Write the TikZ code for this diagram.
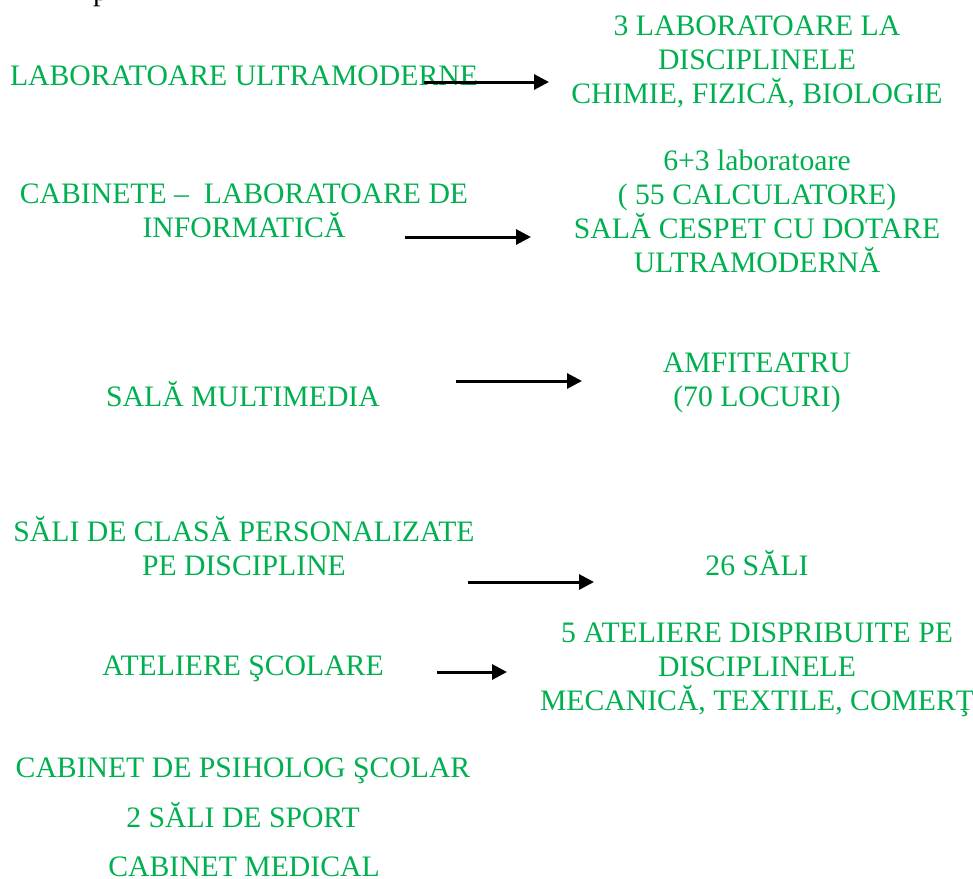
\documentclass[tikz,border=0pt]{standalone}
\usepackage{fontspec}
\setmainfont{Liberation Serif}
\usepackage{xcolor}
\usepackage{tikz}
\usetikzlibrary{arrows.meta, positioning}
\definecolor{offgreen}{RGB}{0,176,80}

\begin{document}
\begin{tikzpicture}[
    x=1pt, y=-1pt,
    every node/.style={text=offgreen, inner sep=0pt, align=center, anchor=base,
        font=\fontsize{29.7}{33.8}\selectfont},
    cut/.style={text=black},
    arr/.style={-{Triangle[length=15pt, width=15pt]}, line width=3pt},
]
\useasboundingbox (0,0) rectangle (973,878);

\node[cut, anchor=base west] (p) at (93,1) {p};

\node (lab) at (244,85) {LABORATOARE ULTRAMODERNE};
\node (labR) at (757,103) {3 LABORATOARE LA\\DISCIPLINELE\\CHIMIE, FIZICĂ, BIOLOGIE};

\node (info) at (244,237) {CABINETE –~ LABORATOARE DE\\INFORMATICĂ};
\node (infoR) at (757,272) {6+3 laboratoare\\( 55 CALCULATORE)\\SALĂ CESPET CU DOTARE\\ULTRAMODERNĂ};

\node (multi) at (243,406) {SALĂ MULTIMEDIA};
\node (multiR) at (757,406) {AMFITEATRU\\(70 LOCURI)};

\node (clase) at (244,575) {SĂLI DE CLASĂ PERSONALIZATE\\PE DISCIPLINE};
\node (claseR) at (757,575) {26 SĂLI};

\node (atel) at (243,675) {ATELIERE ŞCOLARE};
\node (atelR) at (757,710) {5 ATELIERE DISPRIBUITE PE\\DISCIPLINELE\\MECANICĂ, TEXTILE, COMERŢ};

\node (psih) at (243,777) {CABINET DE PSIHOLOG ŞCOLAR};
\node (sport) at (243,827) {2 SĂLI DE SPORT};
\node (med) at (244,876) {CABINET MEDICAL};

\coordinate (a1) at (424,82);
\coordinate (b1) at (549,82);
\coordinate (a2) at (405,237);
\coordinate (b2) at (531,237);
\coordinate (a3) at (456,381);
\coordinate (b3) at (582,381);
\coordinate (a4) at (468,582);
\coordinate (b4) at (594,582);
\coordinate (a5) at (437,672);
\coordinate (b5) at (507,672);

\draw[arr] (a1) -- (b1);
\draw[arr] (a2) -- (b2);
\draw[arr] (a3) -- (b3);
\draw[arr] (a4) -- (b4);
\draw[arr] (a5) -- (b5);

\end{tikzpicture}
\end{document}
